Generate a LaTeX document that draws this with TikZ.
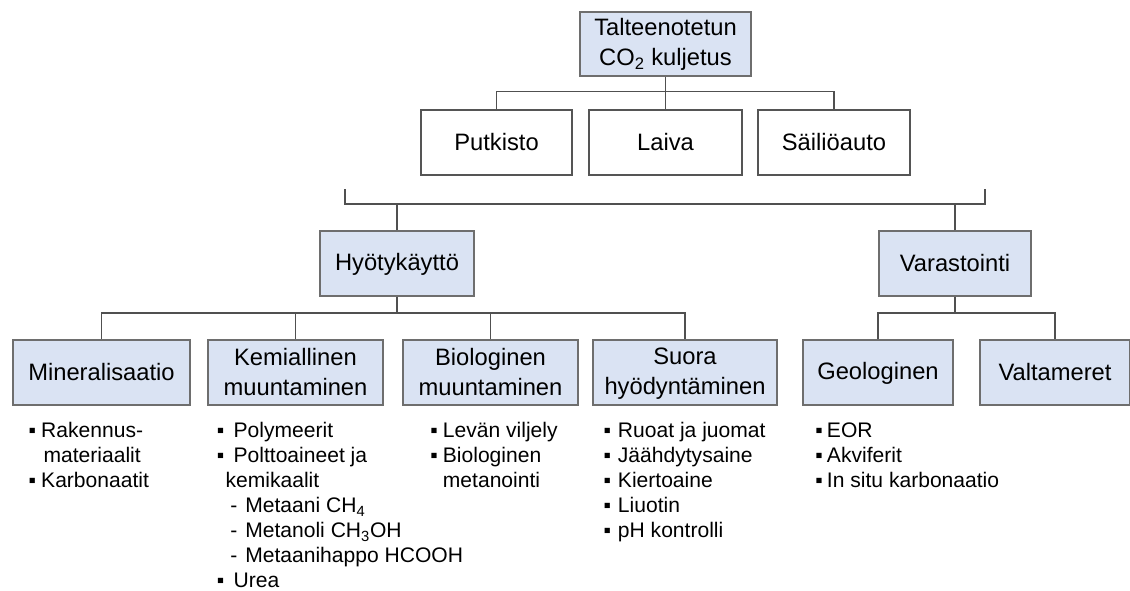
\documentclass[tikz,border=0pt]{standalone}
\usepackage{fontspec}
\setmainfont{Liberation Sans}
\usepackage{array}
\definecolor{boxblue}{HTML}{DAE3F3}
\definecolor{boxline}{HTML}{6E6E6E}
\definecolor{wline}{HTML}{555555}
\definecolor{connline}{HTML}{505050}
\newcommand{\boxfont}{\fontsize{17.8}{22.5}\selectfont}
\newcommand{\listfont}{\fontsize{15.8}{18.75}\selectfont}
\newcommand{\bul}[1]{\makebox[#1][l]{▪}}
\newcommand{\bs}{\rule[-2.3pt]{0pt}{16.1pt}}
\begin{document}
\begin{tikzpicture}[x=0.75pt,y=-0.75pt,
  box/.style={draw=boxline, line width=1.1pt, fill=boxblue, inner sep=0pt,
    align=center, font=\boxfont, minimum height=48.75pt},
  wbox/.style={box, fill=white, draw=wline},
  conn/.style={draw=connline, line width=0.9pt},
  list/.style={inner sep=0pt, anchor=base west, font=\listfont}]
\useasboundingbox (0,0) rectangle (1130,590);

% level 0
\node[box, minimum width=128.25pt, minimum height=48pt] (top) at (665.5,44) {\bs Talteenotetun\\\bs CO\textsubscript{2} kuljetus};
% transport
\node[wbox, minimum width=113.25pt] (put) at (496.5,142.5) {\bs Putkisto};
\node[wbox, minimum width=114.75pt] (lai) at (665.5,142.5) {\bs Laiva};
\node[wbox, minimum width=114pt] (sai) at (834,142.5) {\bs Säiliöauto};
% level 1
\node[box, minimum width=115.5pt] (hyo) at (397,263.5) {\bs Hyötykäyttö};
\node[box, minimum width=114pt] (var) at (955,263.5) {\bs Varastointi};
% level 2
\node[box, minimum width=132.75pt] (min) at (101.5,372.5) {\bs Mineralisaatio};
\node[box, minimum width=131.25pt] (kem) at (295.5,372.5) {\bs Kemiallinen\\\bs muuntaminen};
\node[box, minimum width=131.25pt] (bio) at (490.5,372.5) {\bs Biologinen\\\bs muuntaminen};
\node[box, minimum width=138pt] (suo) at (685,372.5) {\bs Suora\\\bs hyödyntäminen};
\node[box, minimum width=112.5pt] (geo) at (878,372.5) {\bs Geologinen};
\node[box, minimum width=112.5pt] (val) at (1055,372.5) {\bs Valtameret};

% connectors top
\coordinate (j0) at (665.5,91.5);
\draw[conn] (top.south) -- (j0);
\draw[conn] (put.north) |- (j0) -| (sai.north);
\draw[conn] (j0) -- (lai.north);
% bracket
\coordinate (bL) at (345,189);
\coordinate (bLd) at (345,204);
\coordinate (bRd) at (985,204);
\coordinate (bR) at (985,189);
\draw[conn] (bL) -- (bLd) -- (bRd) -- (bR);
\draw[conn] (hyo.north) -- (hyo.north |- bLd);
\draw[conn] (var.north) -- (var.north |- bRd);
% level 2 connectors
\coordinate (j2) at (397,313);
\draw[conn] (hyo.south) -- (j2);
\draw[conn] (min.north) |- (j2) -| (suo.north);
\draw[conn] (kem.north) -- (kem.north |- j2);
\draw[conn] (bio.north) -- (bio.north |- j2);
\coordinate (j3) at (955,313);
\draw[conn] (var.south) -- (j3);
\draw[conn] (geo.north) |- (j3) -| (val.north);

% lists
\node[list] (lmin) at (28.3,437.5) {\begin{tabular}[t]{@{}l@{}}
\bul{9.5pt}Rakennus-\\
\hspace*{11.25pt}materiaalit\\
\bul{9.5pt}Karbonaatit
\end{tabular}};
\node[list] (lkem) at (216.7,437.5) {\begin{tabular}[t]{@{}l@{}}
\bul{12.5pt}Polymeerit\\
\bul{12.5pt}Polttoaineet ja\\
\hspace*{6.5pt}kemikaalit\\
\hspace*{10pt}\makebox[11.25pt][l]{-}Metaani CH\textsubscript{4}\\
\hspace*{10pt}\makebox[11.25pt][l]{-}Metanoli CH\textsubscript{3}OH\\
\hspace*{10pt}\makebox[11.25pt][l]{-}Metaanihappo HCOOH\\
\bul{12.5pt}Urea
\end{tabular}};
\node[list] (lbio) at (430,437.5) {\begin{tabular}[t]{@{}l@{}}
\bul{9.5pt}Levän viljely\\
\bul{9.5pt}Biologinen\\
\hspace*{9.5pt}metanointi
\end{tabular}};
\node[list] (lsuo) at (603.3,437.5) {\begin{tabular}[t]{@{}l@{}}
\bul{10.8pt}Ruoat ja juomat\\
\bul{10.8pt}Jäähdytysaine\\
\bul{10.8pt}Kiertoaine\\
\bul{10.8pt}Liuotin\\
\bul{10.8pt}pH kontrolli
\end{tabular}};
\node[list] (lgeo) at (815,437.5) {\begin{tabular}[t]{@{}l@{}}
\bul{8.8pt}EOR\\
\bul{8.8pt}Akviferit\\
\bul{8.8pt}In situ karbonaatio
\end{tabular}};
\end{tikzpicture}
\end{document}
